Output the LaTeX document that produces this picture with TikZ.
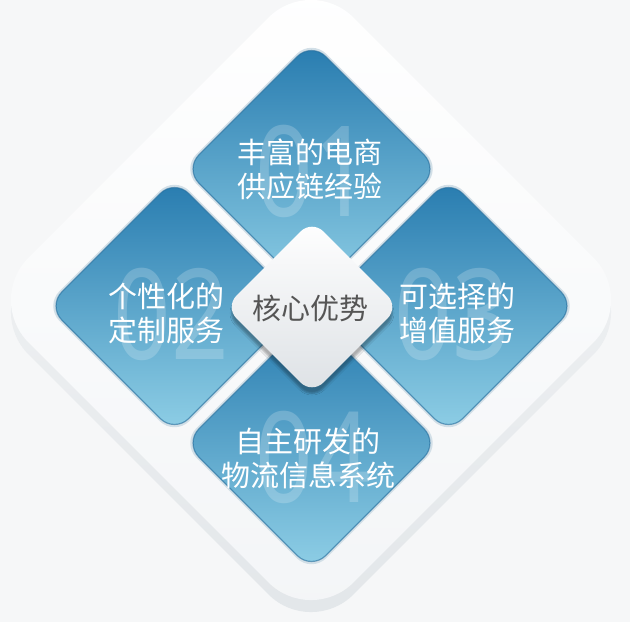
\documentclass[tikz,border=0pt]{standalone}
\usepackage{fontspec}
\newfontfamily\cjkfont{Noto Sans CJK SC}
\newfontfamily\numfont{Noto Sans}
\usetikzlibrary{shapes.geometric,shadows.blur}
\definecolor{bgcol}{HTML}{F6F7F8}
\definecolor{bevelcol}{HTML}{E2E6E9}
\definecolor{facebot}{HTML}{F3F5F7}
\definecolor{rimcol}{HTML}{D2DFE7}
\definecolor{bluetop}{HTML}{277BAF}
\definecolor{bluebot}{HTML}{8FCFE6}
\definecolor{blueedge}{HTML}{236C9C}
\definecolor{coretext}{HTML}{555555}
\definecolor{corebot}{HTML}{DDE1E5}

\begin{document}
\begin{tikzpicture}[x=1pt, y=-1pt,
    gem/.style={diamond, aspect=1, inner sep=0pt, minimum width=#1, minimum height=#1},
    rim/.style={gem=260pt, rounded corners=21pt, fill=rimcol},
    bluegem/.style={gem=254pt, rounded corners=20pt, top color=bluetop, bottom color=bluebot, draw=blueedge, draw opacity=0.6, line width=1.2pt},
    gemtext/.style={text=white, align=center, font=\cjkfont\fontsize{29}{34}\selectfont},
    bignum/.style={text=white, text opacity=0.2, font=\numfont\bfseries\fontsize{126}{126}\selectfont}
]
    \useasboundingbox (0,0) rectangle (630,622);
    \fill[bgcol] (0,0) rectangle (630,622);

    % outer frame
    \node[gem=650pt, rounded corners=60pt, top color=bgcol, bottom color=bevelcol] (bevel) at (311,312) {};
    \node[gem=650pt, rounded corners=60pt, top color=white, bottom color=facebot] (frame) at (311,300) {};

    % four blue tiles
    \node[rim] at (311.5,169) {};
    \node[rim] at (174.5,306) {};
    \node[rim] at (448.5,306) {};
    \node[rim] at (311.5,443) {};
    \node[bluegem] (t1) at (311.5,169) {};
    \node[bluegem] (t2) at (174.5,306) {};
    \node[bluegem] (t3) at (448.5,306) {};
    \node[bluegem] (t4) at (311.5,443) {};

    \node[bignum] (n1) at (313,171) {\scalebox{0.8}[1]{01}};
    \node[bignum] (n2) at (171,314) {\scalebox{0.8}[1]{02}};
    \node[bignum] (n3) at (452,314) {\scalebox{0.8}[1]{03}};
    \node[bignum] (n4) at (313,457) {\scalebox{0.8}[1]{04}};

    \node[gemtext] (l1) at (310,169) {丰富的电商\\供应链经验};
    \node[gemtext] (l2) at (166,313) {个性化的\\定制服务};
    \node[gemtext] (l3) at (457,313) {可选择的\\增值服务};
    \node[gemtext] (l4) at (308,458) {自主研发的\\物流信息系统};

    % centre tile
    \node[gem=174pt, rounded corners=16pt, top color=white, bottom color=corebot,
          blur shadow={shadow xshift=0pt, shadow yshift=-6pt, shadow opacity=30}] (core) at (312,307) {};
    \node[text=coretext, font=\cjkfont\fontsize{29}{34}\selectfont] (coretxt) at (310,308) {核心优势};
\end{tikzpicture}
\end{document}
